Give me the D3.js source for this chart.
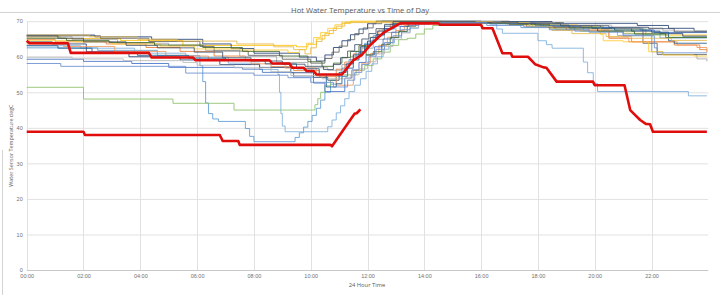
<!DOCTYPE html>
<html>
<head>
<meta charset="utf-8">
<script src="https://cdn.jsdelivr.net/npm/d3@7"></script>
<style>
  body { margin: 0; background: #fff; }
  svg { display: block; font-family: "Open Sans", "Liberation Sans", sans-serif; }
</style>
</head>
<body>
<div id="chart"></div>
<script>
// axis ticks
const xTickHours = [0, 2, 4, 6, 8, 10, 12, 14, 16, 18, 20, 22];
const xTickLabels = ["00:00", "02:00", "04:00", "06:00", "08:00", "10:00", "12:00", "14:00", "16:00", "18:00", "20:00", "22:00"];
const yTicks = [0, 10, 20, 30, 40, 50, 60, 70];

// thin sensor series: [hour, degC], value holds from that hour on
const s1 = [[0,65.6],[1.2,65.1],[3.3,64.6],[5.5,63.2],[9.5,62.8],[9.9,63.5],[10.2,65],[10.5,66.5],[10.8,68],[11.1,69.4],[11.4,70],[14.6,69.6],[17.2,69.2],[17.8,68.4],[18.6,67.7],[19.5,67.2],[21.0,66.6],[22.5,66.1],[23.95,66.1]];
const s2 = [[0,66.1],[2.4,65.6],[4.4,64.9],[6.2,63.6],[7.2,62.3],[8.0,61.0],[9.6,59.9],[10.2,58.8],[10.5,60.5],[10.8,62.6],[11.1,64.5],[11.4,66.2],[11.7,67.8],[12.0,69.3],[12.3,70],[16.0,69.9],[18.5,69.4],[21.5,68.8],[22.6,68.0],[23.5,67.2],[23.95,67.2]];
const s3 = [[0,64.9],[1.0,64.2],[2.8,63.6],[4.2,62.6],[5.4,61.5],[6.6,60.2],[7.7,58.9],[8.6,57.2],[9.4,56.1],[10.3,54.4],[10.9,56.5],[11.2,58.5],[11.5,60.8],[11.8,63.2],[12.1,65.5],[12.4,67.5],[12.8,69.2],[13.2,69.8],[16.5,69.5],[17.6,68.4],[19.0,67.5],[20.5,65.2],[21.3,64.2],[22.8,63.3],[23.7,62.0],[23.95,61.2]];
const s4 = [[0,65.6],[1.6,64.9],[3.2,63.8],[5.0,63.1],[6.3,61.8],[7.5,60.1],[8.8,58.4],[9.9,56.9],[10.6,56.2],[11.1,57.8],[11.4,60.0],[11.8,62.4],[12.2,64.9],[12.6,66.8],[13.0,68.6],[13.4,69.6],[16.8,69.3],[18.2,68.4],[19.6,67.3],[20.8,66.0],[22.0,61.4],[22.4,60.6],[23.6,59.4],[23.95,58.7]];
const s5 = [[0,62.5],[2.5,61.8],[4.6,60.3],[6.1,57.5],[6.2,53],[6.3,47],[6.4,44],[6.55,42.5],[6.75,41.8],[7.7,39.8],[7.85,37.6],[8.0,36.1],[9.45,37.3],[9.6,38.6],[9.75,40.2],[9.9,41.8],[10.05,43.5],[10.2,45.5],[10.35,47.8],[10.5,50],[10.7,52.3],[10.9,54.5],[11.1,56.8],[11.35,59.2],[11.6,61.5],[11.9,63.8],[12.2,65.9],[12.55,67.8],[12.95,69.3],[13.3,69.8],[16.4,69.3],[17.4,68.2],[19.3,67.2],[21.0,66.4],[22.3,65.3],[23.95,65.3]];
const s6 = [[0,51.4],[2.0,48.1],[5.15,46.9],[7.3,45.0],[10.15,46.5],[10.25,48.2],[10.35,50.0],[10.5,51.8],[10.7,53.4],[10.9,54.9],[11.6,56.2],[11.9,57.5],[12.2,59.4],[12.5,61.3],[12.8,63.2],[13.1,64.8],[13.4,65.2],[13.7,66.4],[14.0,67.8],[14.3,68.8],[14.6,69.6],[17.3,69.2],[18.8,68.6],[20.3,67.8],[21.8,66.1],[22.6,65.5],[23.95,65.5]];
const s7 = [[0,63.1],[1.9,62.4],[3.8,61.0],[5.6,59.9],[7.1,58.2],[8.2,56.4],[8.85,55.0],[8.9,50],[8.95,44],[9.0,40.5],[9.1,38.9],[10.6,40.3],[10.75,42.2],[10.9,44.2],[11.05,46.2],[11.2,48.2],[11.35,50.2],[11.55,52.0],[11.75,53.8],[11.95,55.9],[12.15,58.0],[12.35,60.0],[12.55,62.1],[12.75,63.9],[12.95,65.5],[13.2,66.9],[13.5,68.0],[13.8,69.2],[14.2,69.7],[16.3,69.2],[16.55,67.8],[16.75,66.6],[18.0,64.5],[18.3,63.4],[18.5,62.4],[19.6,58.5],[19.75,55.5],[19.95,52.5],[20.1,50.2],[23.3,49.0],[23.95,49.0]];
const s8 = [[0,64.2],[0.9,63.6],[2.1,61.4],[3.6,60.0],[5.4,59.1],[6.8,57.8],[8.2,57.0],[9.3,55.5],[10.1,54.2],[10.6,53.4],[11.0,55.6],[11.25,58.0],[11.5,60.5],[11.75,62.8],[12.0,64.4],[12.3,66.2],[12.6,67.9],[12.9,69.2],[13.2,69.8],[16.2,69.6],[18.4,68.7],[19.9,68.0],[21.3,67.2],[22.3,66.5],[23.1,65.8],[23.95,65.8]];
const s9 = [[0,65.9],[2.6,65.2],[4.3,64.3],[6.1,62.9],[6.6,61.6],[7.8,60.4],[9.0,59.3],[10.0,58.2],[10.5,59.5],[10.75,61.3],[11.0,63.0],[11.3,64.8],[11.55,66.5],[11.85,68.1],[12.2,69.3],[12.5,70],[17.0,69.6],[18.9,68.8],[20.2,67.9],[21.7,63.8],[22.2,60.6],[23.4,60.6],[23.95,60.6]];
const s10 = [[0,64.5],[1.7,64.2],[3.0,63.6],[4.7,63.0],[5.9,62.2],[7.5,61.9],[9.2,61.2],[9.6,62.0],[9.85,63.8],[10.1,65.4],[10.35,66.8],[10.6,68.0],[10.85,69.0],[11.1,69.8],[15.5,69.6],[17.6,69.0],[19.4,68.3],[20.2,66.3],[20.3,64.5],[21.0,64.2],[21.9,61.4],[22.4,60.5],[23.5,60.2],[23.95,60.2]];
const s11 = [[0,63.6],[1.3,62.9],[3.1,61.5],[4.9,60.2],[6.4,59.3],[7.9,58.0],[9.1,56.8],[10.2,54.6],[10.9,52.0],[11.5,56.1],[11.8,58.2],[12.1,60.9],[12.4,63.2],[12.7,65.5],[13.0,67.4],[13.3,68.8],[13.6,69.6],[16.9,69.2],[18.3,68.3],[19.8,67.5],[20.5,65.3],[21.2,64.2],[22.9,63.3],[23.6,62.6],[23.95,61.8]];
const s12 = [[0,59.3],[2.0,58.7],[3.7,58.1],[5.0,57.0],[7.6,56.5],[8.3,55.6],[9.4,54.3],[10.1,52.6],[10.5,50.2],[11.2,54.0],[11.45,56.3],[11.7,58.4],[11.95,60.5],[12.25,62.8],[12.55,65.0],[12.85,66.9],[13.15,68.5],[13.45,69.5],[16.3,69.3],[18.1,68.6],[19.5,68.2],[21.6,67.5],[22.1,66.8],[23.95,66.8]];
const s13 = [[0,59.9],[1.6,59.4],[3.4,58.9],[5.5,58.4],[6.0,57.6],[7.3,56.9],[8.6,55.8],[9.3,54.7],[10.4,53.8],[11.4,54.9],[11.7,56.6],[12.0,58.6],[12.3,60.8],[12.6,62.9],[12.9,64.9],[13.2,66.7],[13.5,68.2],[13.8,69.3],[14.1,69.8],[16.7,69.5],[18.6,68.9],[20.6,68.1],[22.4,67.3],[23.95,67.3]];
const s14 = [[0,63.1],[1.1,62.4],[2.3,61.0],[3.9,60.4],[5.7,59.6],[7.0,59.1],[8.4,58.0],[9.5,56.6],[10.3,55.0],[10.55,51.5],[10.9,52.4],[11.1,54.5],[11.3,56.8],[11.5,59.1],[11.7,61.3],[11.9,63.4],[12.1,65.4],[12.35,67.2],[12.6,68.6],[12.9,69.5],[16.6,69.4],[17.9,68.9],[19.1,68.1],[20.7,67.5],[22.0,66.9],[22.6,64.5],[22.8,63.8],[23.95,63.8]];
const s15 = [[0,65.2],[1.4,64.6],[2.9,64.0],[4.5,63.3],[6.2,62.6],[7.6,61.5],[8.9,60.2],[9.9,58.6],[10.4,57.3],[10.8,58.2],[11.1,59.8],[11.4,61.5],[11.7,63.1],[11.95,60.5],[12.2,61.4],[12.5,63.5],[12.8,65.4],[13.1,67.1],[13.4,68.6],[13.7,69.6],[16.1,69.5],[17.0,69.0],[18.4,68.1],[20.1,67.2],[21.4,66.4],[22.5,65.4],[23.95,65.4]];
const s16 = [[0,66.1],[2.2,65.6],[3.9,64.9],[5.3,64.4],[7.4,63.6],[8.7,62.8],[9.4,62.0],[9.8,60.8],[10.0,62.5],[10.2,64.3],[10.4,66.0],[10.65,67.4],[10.9,68.6],[11.2,69.6],[13.8,69.9],[16.4,69.6],[17.7,68.5],[18.5,67.4],[19.2,66.5],[20.4,65.7],[21.3,65.2],[22.7,64.6],[23.95,64.6]];
const s17 = [[0,65.9],[1.1,65.2],[2.0,64.2],[3.5,63.2],[4.6,62.5],[5.9,61.3],[6.9,59.7],[7.9,58.8],[9.0,57.9],[9.8,57.3],[10.45,56.4],[10.8,57.8],[11.05,59.7],[11.3,61.6],[11.55,63.4],[11.8,65.0],[12.05,66.5],[12.3,67.9],[12.6,69.1],[12.9,69.9],[15.8,69.7],[17.3,69.4],[18.8,68.7],[20.5,68.3],[21.9,67.9],[22.8,67.0],[23.95,67.0]];
const s18 = [[0,58.1],[1.2,57.3],[5.6,55.4],[8.0,54.8],[9.2,54.1],[10.0,52.8],[10.8,51.5],[11.3,53.4],[11.55,55.6],[11.8,57.8],[12.05,60.0],[12.3,62.1],[12.6,64.0],[12.9,65.9],[13.2,67.6],[13.5,68.8],[13.8,69.6],[16.0,69.6],[16.2,68.8],[17.5,68.4],[18.4,67.6],[19.8,66.9],[21.0,65.9],[22.1,62.5],[22.2,61.1],[23.95,61.1]];

// highlighted (thick red) series, corner points
const redMain = [[0,64.5],[0.1,63.8],[1.45,63.8],[1.55,61.1],[4.3,61.1],[4.4,59.8],[5.85,59.8],[5.95,59.0],[8.55,59.0],[8.65,58.1],[9.25,58.1],[9.35,56.9],[9.75,56.9],[9.85,56.0],[10.1,56.0],[10.2,55.0],[11.1,55.0],[11.5,59.0],[11.8,60.5],[12.1,63.3],[12.55,66.7],[13.15,69.4],[14.5,69.4],[14.55,69.0],[16.0,69.0],[16.05,68.0],[16.4,68.0],[16.75,61.0],[17.05,61.0],[17.1,60.0],[17.65,60.0],[17.9,57.9],[18.2,57.0],[18.3,56.9],[18.66,53.0],[19.94,53.0],[20.0,52.0],[21.05,52.0],[21.25,45.0],[21.6,42.2],[21.8,41.1],[21.95,41.0],[22.05,38.9],[23.95,38.9]];
const redLow = [[0,38.9],[2.0,38.9],[2.05,38.0],[6.8,38.0],[6.9,36.3],[7.45,36.3],[7.5,35.2],[10.7,35.2],[10.75,34.8],[11.55,44.0],[11.62,44.1],[11.75,45.2]];

const thinSeries = [s1, s2, s3, s4, s5, s6, s7, s8, s9, s10, s11, s12, s13, s14, s15, s16, s17, s18];
const thinColors = ["#FFC000", "#264478", "#ED7D31", "#A5A5A5", "#5B9BD5", "#8CC168", "#7CAFDD", "#264478",
                    "#636363", "#FFCD33", "#F1975A", "#4472C4", "#B7B7B7", "#255E91", "#43682B", "#E5B84A",
                    "#44546A", "#698ED0"];
const redSeries = [redMain, redLow];

const width = 720, height = 295;
const margin = {left: 26.7, right: 11.7, top: 21.2, bottom: 25};

const svg = d3.select("#chart")
              .append("svg")
              .attr("width", width)
              .attr("height", height);

svg.append("rect")
    .attr("width", width)
    .attr("height", height)
    .attr("fill", "#fff");

// chart frame bits visible in the screenshot
svg.append("line")
    .attr("x1", 0).attr("x2", width)
    .attr("y1", 12.5).attr("y2", 12.5)
    .attr("stroke", "#d4d4d4");
svg.append("line")
    .attr("x1", 2.5).attr("x2", 2.5)
    .attr("y1", 150).attr("y2", height)
    .attr("stroke", "#d4d4d4");

let x = d3.scaleLinear()
          .domain([0, 24])
          .range([margin.left, width - margin.right]);
let y = d3.scaleLinear()
          .domain([0, 70])
          .range([height - margin.bottom, margin.top]);

// gridlines
svg.append("g")
    .selectAll("line")
    .data(yTicks)
    .join("line")
    .attr("x1", x(0))
    .attr("x2", x(24))
    .attr("y1", d => y(d) + 0.5)
    .attr("y2", d => y(d) + 0.5)
    .attr("stroke", d => d === 0 ? "#c8c8c8" : "#e1e1e1");

svg.append("g")
    .selectAll("line")
    .data(xTickHours)
    .join("line")
    .attr("x1", d => Math.round(x(d)) + 0.5)
    .attr("x2", d => Math.round(x(d)) + 0.5)
    .attr("y1", y(70))
    .attr("y2", y(0))
    .attr("stroke", "#e1e1e1");

// y axis labels
const yAxis = svg.append("g")
                 .attr("transform", "translate(" + (x(0) - 4) + ",0)")
                 .call(d3.axisLeft(y).tickValues(yTicks).tickSize(0).tickPadding(0));
yAxis.select(".domain").remove();
yAxis.selectAll("text")
     .style("font-size", "5.5px")
     .attr("fill", "#707070");

// x axis labels
const xAxis = svg.append("g")
                 .attr("transform", "translate(0," + (y(0) + 4) + ")")
                 .call(d3.axisBottom(x).tickValues(xTickHours).tickFormat((d, i) => xTickLabels[i]).tickSize(0).tickPadding(0));
xAxis.select(".domain").remove();
xAxis.selectAll("text")
     .style("font-size", "5.5px")
     .attr("fill", "#707070");

// titles
svg.append("text")
    .attr("x", 360)
    .attr("y", 12.5)
    .attr("text-anchor", "middle")
    .style("font-size", "7.6px")
    .attr("fill", "#595959")
    .text("Hot Water Temperature vs Time of Day");

svg.append("text")
    .attr("x", 367)
    .attr("y", 287)
    .attr("text-anchor", "middle")
    .style("font-size", "5.8px")
    .attr("fill", "#595959")
    .text("24 Hour Time");

svg.append("text")
    .attr("transform", "translate(13," + y(35) + ") rotate(-90)")
    .attr("text-anchor", "middle")
    .style("font-size", "5.4px")
    .attr("fill", "#595959")
    .text("Water Sensor Temperature degC");

// thin lines
const stepLine = d3.line()
                   .x(d => x(d[0]))
                   .y(d => y(d[1]))
                   .curve(d3.curveStepAfter);

svg.append("g")
    .selectAll("path")
    .data(thinSeries)
    .join("path")
    .attr("d", stepLine)
    .attr("fill", "none")
    .attr("stroke", (d, i) => thinColors[i])
    .attr("stroke-width", 1)
    .attr("stroke-opacity", 0.85);

// thick red lines
const redLine = d3.line()
                  .x(d => x(d[0]))
                  .y(d => y(d[1]));

svg.append("g")
    .selectAll("path")
    .data(redSeries)
    .join("path")
    .attr("d", redLine)
    .attr("fill", "none")
    .attr("stroke", "#e00d0d")
    .attr("stroke-width", 2.6)
    .attr("stroke-linejoin", "round");
</script>
</body>
</html>
